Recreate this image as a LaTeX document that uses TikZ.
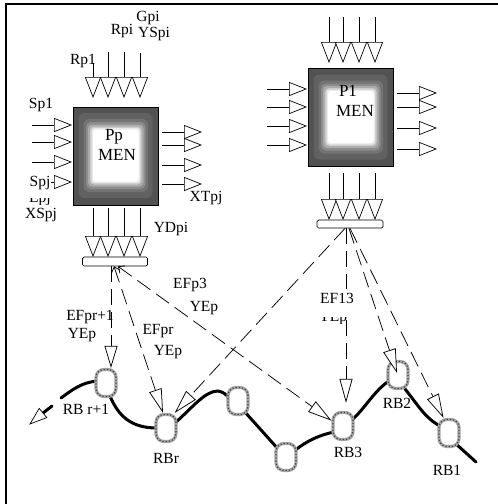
\documentclass[tikz,border=0pt]{standalone}
\usepackage{fontspec}
\setmainfont{Liberation Serif}
\usetikzlibrary{arrows.meta}
\begin{document}
\begin{tikzpicture}[x=1pt,y=-1pt,
  lab/.style={font=\fontsize{15.5}{16}\selectfont, inner sep=0.5pt},
  mentext/.style={font=\fontsize{17}{18}\selectfont, inner sep=0pt},
  dn/.style={line width=0.7pt, -{Triangle[length=21pt,width=16pt,fill=white]}},
  sd/.style={line width=0.7pt, -{Triangle[length=18pt,width=14pt,fill=white]}},
  dsh/.style={line width=0.75pt, dash pattern=on 16pt off 7pt, -{Triangle[length=24pt,width=13pt,fill=white]}},
  rbnode/.style={draw=gray!70, line width=3.2pt, rounded corners=8pt, minimum width=20pt, minimum height=27pt, fill=white, inner sep=0pt,
     postaction={draw=black!75, line width=1.2pt, dash pattern=on 1.2pt off 2pt}},
  road/.style={line width=3pt, line cap=round},
  barbox/.style={draw, fill=white, rounded corners=1.5pt, line width=0.7pt, inner sep=0pt},
  boxframe/.style={draw, line width=0.7pt, minimum width=85pt, minimum height=98pt, inner sep=0pt},
]
\useasboundingbox (0,0) rectangle (498,504);
\draw[line width=1.5pt] (6,504) -- (6,4) -- (498,4);

% ---------- shaded MEN boxes ----------
\foreach \cx/\cy in {115.5/156, 350.5/117.5}{
  \begin{scope}[shift={(\cx,\cy)}]
    \fill[black!68] (-42.5,-49) rectangle (42.5,49);
    \fill[black!62, rounded corners=6pt] (-37,-43) rectangle (37,42);
    \fill[black!55, rounded corners=6pt] (-32,-37) rectangle (32.5,36);
    \fill[black!45, rounded corners=5pt] (-29.5,-34) rectangle (30,33);
    \fill[black!33, rounded corners=4pt] (-27.5,-31.5) rectangle (28,30.5);
    \fill[black!20, rounded corners=4pt] (-25.5,-29.5) rectangle (26,28.5);
    \fill[black!8, rounded corners=3pt] (-24,-28) rectangle (24.5,27);
    \fill[white, rounded corners=3pt] (-22.5,-26.5) rectangle (23,25.5);
  \end{scope}
}
\node[boxframe] (pp) at (115.5,156) {};
\node[boxframe] (p1) at (350.5,117.5) {};
\node[mentext] (pptxt) at (114,137) {Pp};
\node[mentext] (ppmen) at (117,155) {MEN};
\node[mentext] (p1txt) at (348,91) {P1};
\node[mentext] (p1men) at (355,111) {MEN};

% ---------- arrows around left box ----------
\foreach \x/\s in {93/63,108/52,124/52,140/53} \draw[dn] (\x,\s) -- (\x,98);
\foreach \x in {93,108,124,140} \draw[dn] (\x,208) -- (\x,257);
\foreach \y in {125,142,162,182} \draw[sd] (32,\y) -- (72,\y);
\foreach \y in {132,145,165,184} \draw[sd] (162,\y) -- (202,\y);

% ---------- arrows around right box ----------
\foreach \x in {329,343,359,375} \draw[dn] (\x,17) -- (\x,63);
\foreach \x in {329,343,359,375} \draw[dn] (\x,173) -- (\x,220);
\foreach \y in {89,107,126,145} \draw[sd] (267,\y) -- (307,\y);
\foreach \y in {93,107,128,149} \draw[sd] (397,\y) -- (437,\y);

% ---------- bars ----------
\node[barbox, minimum width=65pt, minimum height=9pt] (bar1) at (115,261.5) {};
\node[barbox, minimum width=66pt, minimum height=8pt] (bar2) at (350,224) {};

% ---------- box labels ----------
\node[lab] (lrp1) at (83,61) {Rp1};
\node[lab] (lrpi) at (122,31) {Rpi};
\node[lab] (lgpi) at (148,18) {Gpi};
\node[lab] (lyspi) at (154,34) {YSpi};
\node[lab] (lsp1) at (41,105) {Sp1};
\begin{scope}
  \clip (20,198) rectangle (70,204.5);
  \node[lab] (lepj) at (40,199.5) {Epj};
\end{scope}
\node[lab, fill=white] (lspj) at (40,183.5) {Spj};
\node[lab] (lxspj) at (41,215.5) {XSpj};
\node[lab, fill=white] (lxtpj) at (206,198) {XTpj};
\node[lab] (lydpi) at (171,229) {YDpi};

% ---------- road ----------
\draw[road] (61,398) .. controls (72,390) and (82,382) .. (98,381);
\draw[road] (110,396) .. controls (118,415) and (130,428) .. (157,428);
\draw[road] (175,423) .. controls (193,407) and (205,391) .. (218,391) .. controls (223,392) and (226,394) .. (230,399);
\draw[road] (244,411) -- (279,450);
\draw[road] (294,451) .. controls (308,440) and (320,435) .. (334,432);
\draw[road] (353,419) .. controls (365,408) and (375,390) .. (389,381);
\draw[road] (405,389) .. controls (418,405) and (425,418) .. (440,426);
\draw[road] (456,444) -- (476,462);
\draw[road] (52,406) -- (43,413);
\draw[line width=0.7pt, fill=white] (39.2,408.4) -- (46.8,417.6) -- (30,424) -- cycle;

% ---------- RB nodes ----------
\node[rbnode] (rbrp1) at (106,383) {};
\node[rbnode] (rbr) at (166,428) {};
\node[rbnode] (rbx1) at (238,401) {};
\node[rbnode] (rbx2) at (286,457) {};
\node[rbnode] (rb3) at (343,426) {};
\node[rbnode] (rb2) at (398,375) {};
\node[rbnode] (rb1) at (449,433) {};

% ---------- dashed connectors ----------
\draw[dsh, -{Triangle[length=22pt,width=13pt,fill=white]}] ([xshift=-4pt]bar1.south) -- ([xshift=5pt]rbrp1.north);
\draw[dsh, {Straight Barb[length=5pt,width=9pt]}-{Triangle[length=24pt,width=13pt,fill=white]}] ([xshift=-1pt]bar1.south) -- ([xshift=-3pt]rbr.north);
\draw[dsh, {Straight Barb[length=5pt,width=9pt]}-{Triangle[length=24pt,width=13pt,fill=white]}] ([xshift=3pt]bar1.south) -- (rb3.155);
\draw[dsh] ([xshift=-5pt]bar2.south) -- (rbr.60);
\draw[dsh, shorten >=8pt] ([xshift=-4pt]bar2.south) -- ([xshift=3pt]rb3.north);
\draw[dsh] ([xshift=-1pt]bar2.south) -- ([xshift=-1pt,yshift=2pt]rb2.center);
\draw[dsh] ([xshift=0pt]bar2.south) -- (rb1.110);

% ---------- connector labels ----------
\node[lab] (lefr1) at (90,317) {EFpr+1};
\node[lab] (lyep1) at (82,335) {YEp};
\node[lab] (lefr) at (158,331) {EFpr};
\node[lab] (lyep2) at (168,352) {YEp};
\node[lab] (lefp3) at (190,285) {EFp3};
\node[lab] (lyep3) at (204,308) {YEp};
\fill[white] (320,289) rectangle (355,316);
\node[lab] (lef13) at (337,298) {EF13};
\begin{scope}
  \clip (315,317) rectangle (360,323);
  \node[lab, anchor=base] (lyep4) at (333,321) {YEp};
\end{scope}

% ---------- RB labels ----------
\node[lab] (lrbrp1) at (86,409) {RB r+1};
\node[lab] (lrbr) at (166,458) {RBr};
\node[lab] (lrb3) at (348,452) {RB3};
\node[lab] (lrb2) at (397,403) {RB2};
\node[lab] (lrb1) at (447,470) {RB1};
\end{tikzpicture}
\end{document}
